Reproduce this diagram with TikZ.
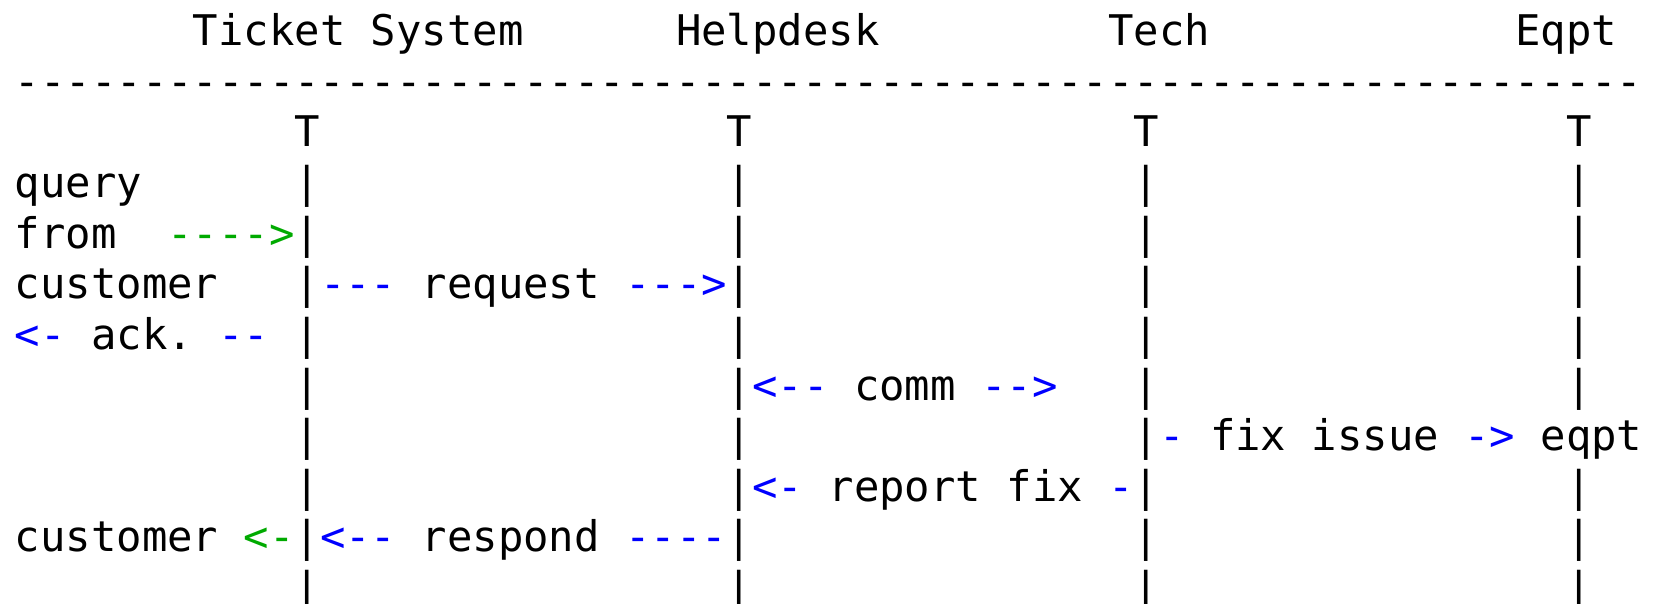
\documentclass[tikz,border=0pt]{standalone}
\usepackage{fontspec}
\setmonofont{DejaVu Sans Mono}
\definecolor{agreen}{RGB}{0,170,0}
\definecolor{ablue}{RGB}{0,0,255}
\tikzset{
  ch/.style={inner sep=0pt, outer sep=0pt, anchor=base west,
             font=\ttfamily\fontsize{42.23}{50.6}\selectfont},
  blu/.style={ch, text=ablue},
  grn/.style={ch, text=agreen},
  blk/.style={ch, text=black}
}
% name, column, row, style, text
\newcommand\gtxt[5]{\node[#4] (#1) at ({14.9+#2*25.43},{-45.7-#3*50.625}) {#5};}
\begin{document}
\begin{tikzpicture}[x=1pt,y=1pt]
\useasboundingbox (0,0) rectangle (1662,-604);
% header
\gtxt{hTicket}{7}{0}{blk}{Ticket}
\gtxt{hSystem}{14}{0}{blk}{System}
\gtxt{hHelp}{26}{0}{blk}{Helpdesk}
\gtxt{hTech}{43}{0}{blk}{Tech}
\gtxt{hEqpt}{59}{0}{blk}{Eqpt}
% rule
\gtxt{rule}{0}{1}{blk}{----------------------------------------------------------------}
% tops
\gtxt{tA}{11}{2}{blk}{T}
\gtxt{tB}{28}{2}{blk}{T}
\gtxt{tC}{44}{2}{blk}{T}
\gtxt{tD}{61}{2}{blk}{T}
% lifelines
\foreach \r in {3,...,11}{
  \foreach \c in {11,28,44}{
    \gtxt{bar\r-\c}{\c}{\r}{blk}{|}
  }
}
\foreach \r in {3,4,5,6,7,9,10,11}{
  \gtxt{bar\r-61}{61}{\r}{blk}{|}
}
% row 3
\gtxt{query}{0}{3}{blk}{query}
% row 4
\gtxt{from}{0}{4}{blk}{from}
\gtxt{qarrow}{6}{4}{grn}{---->}
% row 5
\gtxt{cust1}{0}{5}{blk}{customer}
\gtxt{reqA}{12}{5}{blu}{---}
\gtxt{req}{16}{5}{blk}{request}
\gtxt{reqB}{24}{5}{blu}{--->}
% row 6
\gtxt{ackA}{0}{6}{blu}{<-}
\gtxt{ack}{3}{6}{blk}{ack.}
\gtxt{ackB}{8}{6}{blu}{--}
% row 7
\gtxt{commA}{29}{7}{blu}{<--}
\gtxt{comm}{33}{7}{blk}{comm}
\gtxt{commB}{38}{7}{blu}{-->}
% row 8
\gtxt{fixA}{45}{8}{blu}{-}
\gtxt{fixw}{47}{8}{blk}{fix}
\gtxt{issue}{51}{8}{blk}{issue}
\gtxt{fixB}{57}{8}{blu}{->}
\gtxt{eqpt}{60}{8}{blk}{eqpt}
% row 9
\gtxt{repA}{29}{9}{blu}{<-}
\gtxt{report}{32}{9}{blk}{report}
\gtxt{repfix}{39}{9}{blk}{fix}
\gtxt{repB}{43}{9}{blu}{-}
% row 10
\gtxt{cust2}{0}{10}{blk}{customer}
\gtxt{custarrow}{9}{10}{grn}{<-}
\gtxt{resA}{12}{10}{blu}{<--}
\gtxt{respond}{16}{10}{blk}{respond}
\gtxt{resB}{24}{10}{blu}{----}
\end{tikzpicture}
\end{document}
